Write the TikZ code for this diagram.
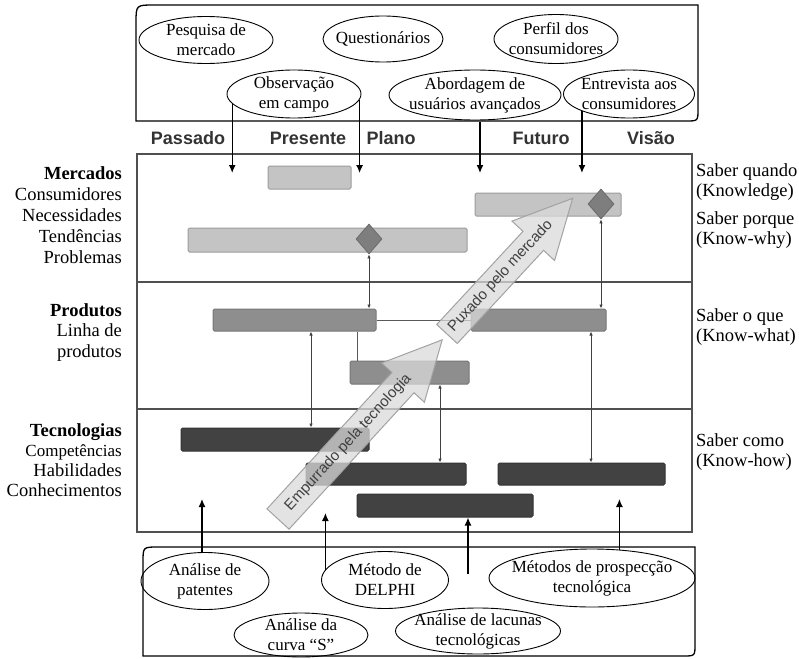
\documentclass[tikz,border=0pt]{standalone}
\usepackage{fontspec}
\setmainfont{Liberation Serif}
\newfontfamily\hsans{Liberation Sans}
\usetikzlibrary{arrows.meta,shapes.geometric}
\definecolor{mlight}{HTML}{C4C4C4}
\definecolor{mborder}{HTML}{9C9C9C}
\definecolor{pmid}{HTML}{8E8E8E}
\definecolor{pborder}{HTML}{767676}
\definecolor{tdark}{HTML}{424242}
\definecolor{tborder}{HTML}{333333}
\definecolor{dia}{HTML}{7E7E7E}
\definecolor{framegray}{HTML}{505050}
\definecolor{bigfill}{HTML}{DADADA}
\definecolor{bigborder}{HTML}{A2A2A2}
\begin{document}
\begin{tikzpicture}[x=1pt,y=-1pt,
 bar/.style={rectangle, inner sep=0, rounded corners=1.5pt, line width=1pt},
 mbar/.style={bar, fill=mlight, draw=mborder},
 pbar/.style={bar, fill=pmid, draw=pborder},
 tbar/.style={bar, fill=tdark, draw=tborder},
 dmd/.style={diamond, inner sep=0, minimum width=26, minimum height=30, fill=dia, draw=dia!85!black, line width=0.8pt},
 ell/.style={ellipse, draw=black, line width=0.9pt, inner sep=0},
 etext/.style={align=center, font=\fontsize{17}{20}\selectfont, inner sep=0},
 lefttext/.style={align=right, font=\fontsize{18.5}{21}\selectfont, inner sep=0, anchor=east},
 righttext/.style={align=left, font=\fontsize{18.5}{20}\selectfont, inner sep=0, anchor=west},
 headlbl/.style={font=\hsans\bfseries\fontsize{18}{20}\selectfont, text=black!80, inner sep=0, anchor=base},
 darrow/.style={line width=1.3pt, -{Latex[length=8pt,width=7pt]}},
 dbl/.style={line width=0.8pt, draw=black!75, {Latex[length=4pt,width=3.5pt]}-{Latex[length=4pt,width=3.5pt]}},
 thinline/.style={line width=0.9pt, draw=black!65},
 big/.style={fill=bigfill, fill opacity=0.75, draw=bigborder, line width=1pt},
 bigtext/.style={font=\hsans\fontsize{15}{16}\selectfont, text=black!75, inner sep=0},
 boxline/.style={line width=1.3pt, draw=black},
]
\useasboundingbox (0,0) rectangle (799,658);

% ---- top box ----
\draw[boxline] (136,121) -- (136,23) .. controls (136,5) .. (154,5) -- (698,5) -- (698,109) .. controls (698,121) .. (686,121) -- cycle;
\node[ell, minimum width=134, minimum height=47] (pes) at (206,40) {};
\node[etext] (pest) at (pes) {Pesquisa de\\mercado};
\node[ell, minimum width=120, minimum height=46] (que) at (383,39) {};
\node[etext] (quet) at (que) {Questionários};
\node[ell, minimum width=124, minimum height=49] (per) at (556,39) {};
\node[etext] (pert) at (per) {Perfil dos\\consumidores};
\node[ell, minimum width=134, minimum height=48] (obs) at (294,94) {};
\node[etext] (obst) at (obs) {Observação\\em campo};
\node[ell, minimum width=172, minimum height=50] (abo) at (475,95) {};
\node[etext] (abot) at (abo) {Abordagem de\\usuários avançados};
\node[ell, minimum width=131, minimum height=48] (ent) at (629,94) {};
\node[etext] (entt) at (ent) {Entrevista aos\\consumidores};

% ---- header ----
\node[headlbl] (hpas) at (188,144) {Passado};
\node[headlbl] (hpre) at (308,144) {Presente};
\node[headlbl] (hpla) at (391,144) {Plano};
\node[headlbl] (hfut) at (541,144) {Futuro};
\node[headlbl] (hvis) at (651,144) {Visão};

% ---- main frame ----
\draw[line width=2.2pt, framegray] (137,154) rectangle (692,532);
\draw[line width=1.8pt, framegray] (137,282) -- (692,282);
\draw[line width=1.8pt, framegray] (137,409) -- (692,409);

% ---- left labels ----
\node[lefttext] (lmerc) at (122,215.5) {\textbf{Mercados}\\Consumidores\\Necessidades\\Tendências\\Problemas};
\node[lefttext, font=\fontsize{18.5}{20.5}\selectfont] (lprod) at (122,332.5) {\textbf{Produtos}\\Linha de\\produtos};
\node[lefttext, font=\fontsize{18.5}{20}\selectfont] (ltec) at (122,460) {\textbf{Tecnologias}\\{\fontsize{17}{20}\selectfont Competências}\\Habilidades\\Conhecimentos};

% ---- right labels ----
\node[righttext] (rq) at (696,182) {Saber quando\\(Knowledge)};
\node[righttext] (rp) at (696,230) {Saber porque\\(Know-why)};
\node[righttext] (ro) at (696,327) {Saber o que\\(Know-what)};
\node[righttext] (rc) at (696,452) {Saber como\\(Know-how)};

% ---- bars ----
\node[mbar, minimum width=83, minimum height=23] (m1) at (309.5,177.5) {};
\node[mbar, minimum width=146, minimum height=23] (m2) at (548,204.5) {};
\node[mbar, minimum width=279, minimum height=24] (m3) at (327.5,240) {};
\node[dmd] (d1) at (369,239) {};
\node[dmd] (d2) at (601,204) {};
\node[pbar, minimum width=163, minimum height=22] (p1) at (294.5,320) {};
\node[pbar, minimum width=135, minimum height=22] (p2) at (538.5,320) {};
\node[pbar, minimum width=119, minimum height=23] (p3) at (409.5,372.5) {};
\node[tbar, minimum width=188, minimum height=23] (t1) at (275,439.5) {};
\node[tbar, minimum width=160, minimum height=22] (t2) at (386,474) {};
\node[tbar, minimum width=167, minimum height=22] (t3) at (581.5,474) {};
\node[tbar, minimum width=176, minimum height=23] (t4) at (445,505.5) {};

% ---- connectors inside ----
\coordinate (xa) at (311,0);
\coordinate (xb) at (440,0);
\coordinate (xc) at (591,0);
\coordinate (xd) at (357,0);
\draw[thinline] (p1.east) -- (p2.west);
\draw[thinline] (p1.south -| xd) -- (p3.north -| xd);
\draw[dbl] (d1.south) -- (d1.south |- p1.north);
\draw[dbl] (d2.south) -- (d2.south |- p2.north);
\draw[dbl] (p1.south -| xa) -- (t1.north -| xa);
\draw[dbl] (p3.south -| xb) -- (t2.north -| xb);
\draw[dbl] (p2.south -| xc) -- (t3.north -| xc);

% ---- big arrows ----
\begin{scope}[shift={(278,519)}, rotate=47.5]
 \draw[big] (0,-15) -- (185,-15) -- (185,-29) -- (243,0) -- (185,29) -- (185,15) -- (0,15) -- cycle;
 \node[bigtext, transform shape] (push) at (104,0) {Empurrado pela tecnologia};
\end{scope}
\begin{scope}[shift={(447,334)}, rotate=47.2]
 \draw[big] (0,-14) -- (127,-14) -- (127,-29) -- (185,0) -- (127,29) -- (127,14) -- (0,14) -- cycle;
 \node[bigtext, transform shape] (pull) at (79,0) {Puxado pelo mercado};
\end{scope}

% ---- top arrows ----
\coordinate (tend) at (0,173);
\coordinate (ab1) at (480,122);
\draw[darrow] (obs.189) -- (obs.189 |- tend);
\draw[darrow] (obs.355) -- (obs.355 |- tend);
\draw[darrow] (ab1) -- (ab1 |- tend);
\draw[darrow] (ent.200) -- (ent.200 |- tend);

% ---- bottom box ----
\draw[boxline] (143,656) -- (143,562) .. controls (143,547) .. (158,547) -- (695,547) -- (695,644) .. controls (695,656) .. (683,656) -- cycle;
\node[ell, minimum width=128, minimum height=57] (pat) at (205,581) {};
\node[etext] (patt) at (pat) {Análise de\\patentes};
\node[ell, minimum width=127, minimum height=57] (del) at (385,580) {};
\node[etext] (delt) at (del) {Método de\\DELPHI};
\node[ell, minimum width=206, minimum height=58] (pro) at (592,578) {};
\node[etext] (prot) at (pro) {Métodos de prospecção\\tecnológica};
\node[ell, minimum width=134, minimum height=44] (cur) at (301,635) {};
\node[etext] (curt) at (cur) {Análise da\\curva “S”};
\node[ell, minimum width=165, minimum height=46] (lac) at (478,631) {};
\node[etext] (lact) at (lac) {Análise de lacunas\\tecnológicas};

% ---- bottom arrows ----
\coordinate (bend) at (0,499);
\coordinate (bend2) at (0,513);
\coordinate (gap) at (468,574);
\draw[darrow] (pat.96) -- (pat.96 |- bend);
\draw[darrow] (del.170) -- (del.170 |- bend2);
\draw[darrow] (gap) -- (gap |- t4.south);
\draw[darrow] (pro.46) -- (pro.46 |- bend);
\end{tikzpicture}
\end{document}
